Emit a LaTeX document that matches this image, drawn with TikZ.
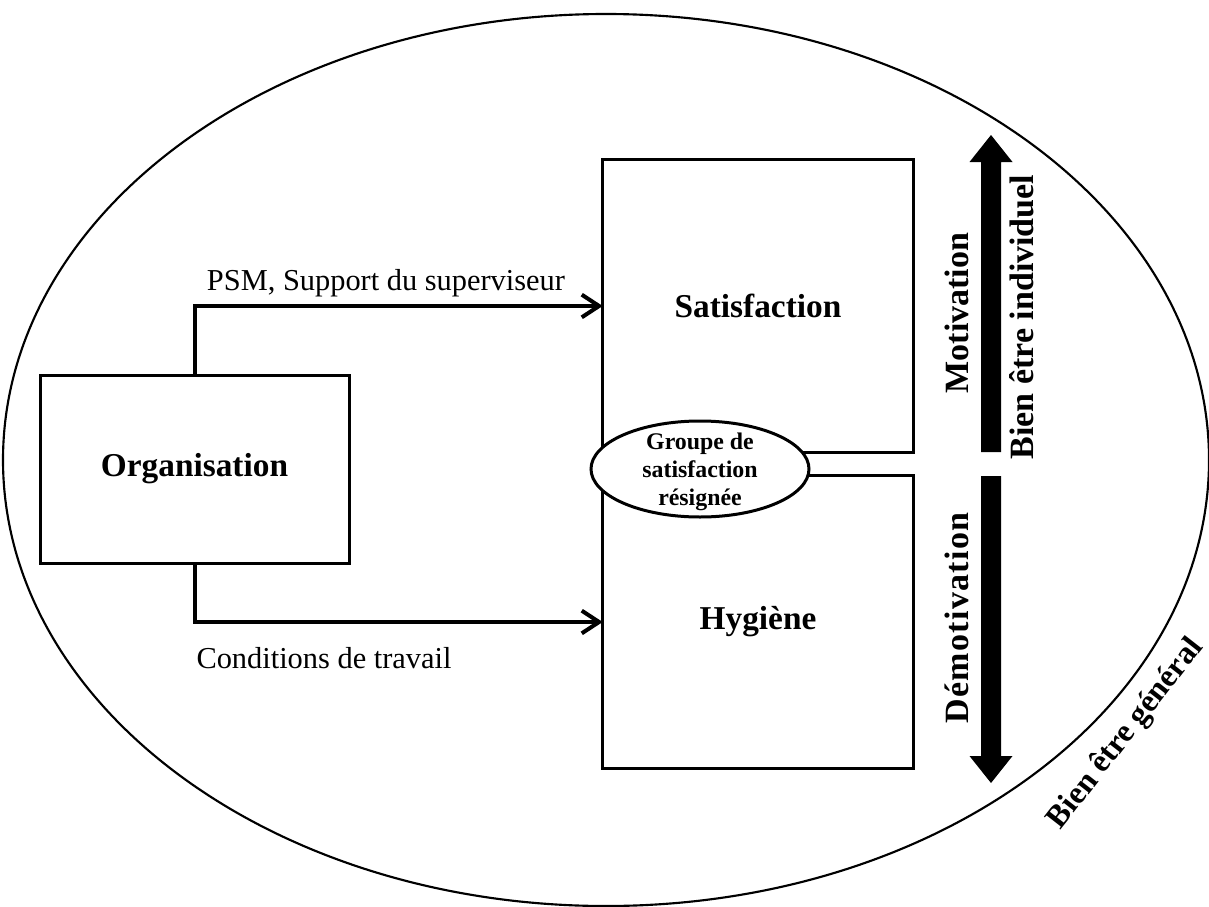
\documentclass[tikz,border=0pt]{standalone}
\usepackage{fontspec}
\setmainfont{Liberation Serif}
\usetikzlibrary{arrows.meta,shapes.geometric}

\begin{document}
\begin{tikzpicture}[x=0.75pt,y=-0.75pt,
  box/.style={draw=black,line width=2.25pt,rectangle,inner sep=0pt},
  zone/.style={rectangle,inner sep=0pt,minimum width=232.5pt,minimum height=219pt,
    font=\fontsize{25}{30}\selectfont\bfseries},
  lbl/.style={inner sep=0pt,font=\fontsize{22.8}{27}\selectfont},
  side/.style={inner sep=0pt,rotate=90,font=\fontsize{25.5}{30}\selectfont\bfseries},
  flow/.style={line width=3pt,line join=miter,
    -{Straight Barb[length=13pt,width=17pt,line width=3pt]}},
  bigarrow/.style={fill=black}]

% canvas
\useasboundingbox (0,0) rectangle (1209,906);

% outer ellipse: general well-being
\node[draw=black,line width=1.6pt,ellipse,inner sep=0pt,
      minimum width=904.5pt,minimum height=669pt] (world) at (606,460) {};

% organisation block
\node[box,minimum width=231.75pt,minimum height=141pt,
      font=\fontsize{25}{30}\selectfont\bfseries] (org) at (194.5,469) {Organisation};

% satisfaction / hygiene zones
\node[zone] (satbox) at (758,306) {Satisfaction};
\node[zone] (hygbox) at (758,622) {Hygiène};
\draw[line width=2.25pt,line join=miter]
  (satbox.south) -- (satbox.south east) -- (satbox.north east)
  -- (satbox.north west) -- (hygbox.south west) -- (hygbox.south east)
  -- (hygbox.north east) -- (hygbox.north);

% resigned satisfaction group
\node[draw=black,fill=white,line width=2.25pt,ellipse,inner sep=0pt,
      minimum width=163.5pt,minimum height=72pt] (grp) at (700,469) {};
\node[inner sep=0pt,align=center,font=\fontsize{17.9}{21}\selectfont\bfseries]
  (grptxt) at (700,472) {Groupe de\\satisfaction\\résignée};

% influences of the organisation
\draw[flow] (org.north) |- (satbox.west);
\draw[flow] (org.south) |- (hygbox.west);
\node[lbl] (psm) at (386,283) {PSM, Support du superviseur};
\node[lbl] (cond) at (324,658) {Conditions de travail};

% motivation axis
\fill[bigarrow] (981,452) -- (981,162) -- (969.5,162) -- (991,135)
  -- (1012.5,162) -- (1001,162) -- (1001,452) -- cycle;
\fill[bigarrow] (981,476) -- (981,756) -- (969.5,756) -- (991,783)
  -- (1012.5,756) -- (1001,756) -- (1001,476) -- cycle;
\node[side] (motiv) at (957,313) {Motivation};
\node[side] (demotiv) at (957,618) {\addfontfeature{LetterSpace=4}Démotivation};
\node[side] (indiv) at (1022,317) {Bien être individuel};
\node[inner sep=0pt,rotate=52,font=\fontsize{24}{28}\selectfont\bfseries]
  (general) at (1126,734) {Bien être général};
\end{tikzpicture}
\end{document}
